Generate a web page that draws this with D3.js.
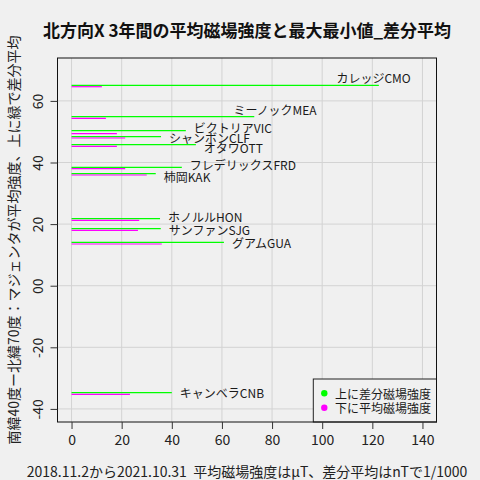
<!DOCTYPE html>
<html><head><meta charset="utf-8">
<script src="https://cdn.jsdelivr.net/npm/d3@7"></script>
<style>
html,body{margin:0;padding:0;background:#f0f0f0;}
text{font-family:"Noto Sans CJK JP","Noto Sans",sans-serif;white-space:pre;}
</style></head>
<body><svg id="c" width="480" height="480"></svg>
<script>
const stations = ["CMO","MEA","VIC","CLF","OTT","FRD","KAK","HON","SJG","GUA","CNB"];
const names = ["カレッジCMO","ミーノックMEA","ビクトリアVIC","シャンボンCLF","オタワOTT","フレデリックスFRD","柿岡KAK","ホノルルHON","サンファンSJG","グアムGUA","キャンベラCNB"];
const latMean = [64.61,54.35,49.35,47.95,45.26,37.99,35.94,21.23,17.99,13.54,-35.26];
const latDiff = [65.06,54.87,50.32,48.38,45.78,38.44,36.36,21.75,18.51,14.09,-34.74];
const meanField = [12.1,13.7,18.1,21.4,18.1,21.4,30.0,27.0,26.5,36.0,23.3];
const diffMean = [122.6,72.9,45.6,35.7,49.6,44.0,33.6,35.3,35.6,60.8,40.0];
const labelX = [102.5,61.4,45.6,35.7,49.6,44.0,33.6,35.3,35.6,60.8,40.0];
const labelLat = [67.6,57.3,51.4,48.2,44.9,39.2,35.6,22.4,18.4,13.96,-34.6];
const xTicks = [0,20,40,60,80,100,120,140];
const yTicks = [60,40,20,0,-20,-40];
const yTickLabels = ["60","40","20","00","-20","-40"];
const legendLabels = ["上に差分磁場強度","下に平均磁場強度"];
const title = "北方向X 3年間の平均磁場強度と最大最小値_差分平均";
const yTitle = "南緯40度ー北緯70度：マジェンタが平均強度、上に緑で差分平均";
const xTitle = "2018.11.2から2021.10.31  平均磁場強度はμT、差分平均はnTで1/1000";

const L=57.5,R=436.5,T=58,B=422;
const x = d3.scaleLinear().domain([-5.6,145.6]).range([L,R]);
const y = d3.scaleLinear().domain([-44.25,73.93]).range([B,T]);
const svg = d3.select("#c");
svg.append("rect").attr("width",480).attr("height",480).attr("fill","#f0f0f0");

const g = svg.append("g");
// grid
g.selectAll(".gx").data(xTicks).enter().append("line")
 .attr("x1",d=>x(d)).attr("x2",d=>x(d)).attr("y1",T).attr("y2",B)
 .attr("stroke","#d3d3d3").attr("stroke-width",1);
g.selectAll(".gy").data(yTicks).enter().append("line")
 .attr("y1",d=>y(d)).attr("y2",d=>y(d)).attr("x1",L).attr("x2",R)
 .attr("stroke","#d3d3d3").attr("stroke-width",1);

const idx = d3.range(stations.length);
// green diff lines
g.selectAll(".gl").data(idx).enter().append("line")
 .attr("x1",x(0)).attr("x2",i=>x(diffMean[i]))
 .attr("y1",i=>y(latDiff[i])).attr("y2",i=>y(latDiff[i]))
 .attr("stroke","#00ff00").attr("stroke-width",1.2);
// magenta mean lines
g.selectAll(".ml").data(idx).enter().append("line")
 .attr("x1",x(0)).attr("x2",i=>x(meanField[i]))
 .attr("y1",i=>y(latMean[i])).attr("y2",i=>y(latMean[i]))
 .attr("stroke","#ff00ff").attr("stroke-width",1.2);
// labels
g.selectAll(".lb").data(idx).enter().append("text")
 .attr("x",i=>x(labelX[i])+8).attr("y",i=>y(labelLat[i]))
 .attr("dominant-baseline","central").attr("font-size",12).attr("fill","#1a1a1a")
 .text(i=>names[i]);

// legend
const lg = svg.append("g");
lg.append("rect").attr("x",313.3).attr("y",379).attr("width",R-313.3).attr("height",B-379)
 .attr("fill","#f0f0f0").attr("stroke","#222").attr("stroke-width",1);
const lcol = ["#00ff00","#ff00ff"];
legendLabels.forEach((t,i)=>{
  lg.append("circle").attr("cx",324.3).attr("cy",393.3+i*14.4).attr("r",3.2).attr("fill",lcol[i]);
  lg.append("text").attr("x",335).attr("y",393.3+i*14.4).attr("dominant-baseline","central")
   .attr("font-size",12).attr("fill","#1a1a1a").text(t);
});

// box
svg.append("rect").attr("x",L).attr("y",T).attr("width",R-L).attr("height",B-T)
 .attr("fill","none").attr("stroke","#111").attr("stroke-width",1);

// x axis
const xa = svg.append("g").attr("transform",`translate(0,${B})`)
 .call(d3.axisBottom(x).tickValues(xTicks).tickSize(7).tickPadding(6).tickFormat(d3.format("d")));
xa.select(".domain").remove();
xa.selectAll("line").attr("stroke","#333");
xa.selectAll("text").attr("font-size",14).attr("fill","#222").attr("font-family","'Noto Sans CJK JP',sans-serif");
// y axis
const ya = svg.append("g").attr("transform",`translate(${L},0)`)
 .call(d3.axisLeft(y).tickValues(yTicks).tickSize(7).tickFormat((d,i)=>yTickLabels[i]));
ya.select(".domain").remove();
ya.selectAll("line").attr("stroke","#333");
ya.selectAll("text").attr("font-size",14).attr("fill","#222").attr("font-family","'Noto Sans CJK JP',sans-serif")
 .attr("x",null).attr("dy",null).attr("text-anchor","middle").attr("dominant-baseline","central")
 .attr("transform",d=>`translate(-20.5,0) rotate(-90)`);

// titles
svg.append("text").attr("x",(L+R)/2).attr("y",29.5).attr("text-anchor","middle")
 .attr("dominant-baseline","central").attr("font-size",17).attr("font-weight","bold").attr("fill","#111").text(title);
svg.append("text").attr("x",(L+R)/2).attr("y",471).attr("text-anchor","middle")
 .attr("dominant-baseline","central").attr("font-size",14).attr("fill","#222").text(xTitle);
svg.append("text").attr("transform",`translate(12.5,240) rotate(-90)`).attr("text-anchor","middle")
 .attr("dominant-baseline","central").attr("font-size",14).attr("fill","#222").text(yTitle);
</script></body></html>
